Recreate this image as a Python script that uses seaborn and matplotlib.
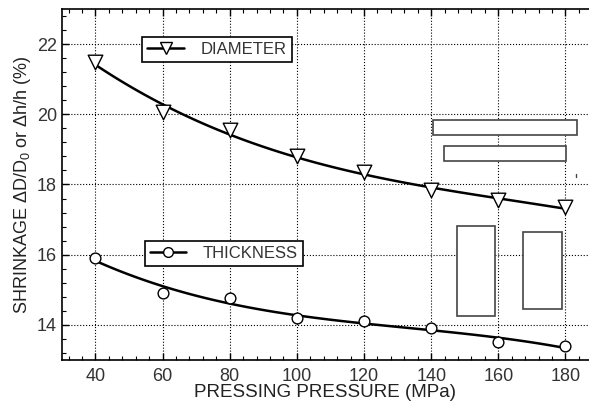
import matplotlib
matplotlib.use("Agg")
import matplotlib.pyplot as plt
from matplotlib.patches import Rectangle
from matplotlib.ticker import MultipleLocator
from matplotlib.lines import Line2D
import seaborn as sns
import numpy as np
import pandas as pd

pressure = [40, 60, 80, 100, 120, 140, 160, 180]
diameter = [21.5, 20.05, 19.55, 18.8, 18.35, 17.85, 17.55, 17.35]
thickness = [15.9, 14.9, 14.78, 14.2, 14.1, 13.9, 13.5, 13.4]

df = pd.DataFrame({'pressure': pressure, 'diameter': diameter, 'thickness': thickness})

sns.set_style('white')
plt.rcParams['font.family'] = ['Liberation Sans', 'DejaVu Sans']
plt.rcParams['mathtext.fontset'] = 'custom'
plt.rcParams['mathtext.rm'] = 'Liberation Sans'

fig = plt.figure(figsize=(5.89, 4.05), dpi=100)
ax = fig.add_axes([0.105, 0.111, 0.895, 0.867])

# smooth fitted curves
for col in ['diameter', 'thickness']:
    sns.regplot(data=df, x='pressure', y=col, order=3, ci=None, scatter=False,
                truncate=True, ax=ax, line_kws=dict(color='black', lw=1.8))

sns.scatterplot(data=df, x='pressure', y='diameter', marker='v', s=110,
                facecolor='white', edgecolor='black', linewidth=1, ax=ax, zorder=5)
sns.scatterplot(data=df, x='pressure', y='thickness', marker='o', s=60,
                facecolor='white', edgecolor='black', linewidth=1, ax=ax, zorder=5)

ax.set_xlim(30, 187)
ax.set_ylim(13, 23)
ax.xaxis.set_minor_locator(MultipleLocator(4))
ax.yaxis.set_major_locator(MultipleLocator(2))
ax.yaxis.set_minor_locator(MultipleLocator(0.4))
ax.set_xticks(range(40, 181, 20))
ax.tick_params(which='both', direction='in', top=True, bottom=True, left=True, right=False,
               colors='black', labelcolor='#333333', labelsize=13)
ax.tick_params(which='major', length=5, width=1)
ax.tick_params(which='minor', length=3, width=0.8)
ax.tick_params(axis='x', which='major', pad=6)
ax.grid(True, which='major', color='black', linestyle=':', linewidth=0.8)
for s in ['left', 'bottom', 'top']:
    ax.spines[s].set_color('black')
    ax.spines[s].set_linewidth(1.2)
ax.spines['right'].set_visible(False)

ax.set_xlabel('PRESSING PRESSURE (MPa)', fontsize=13.5, color='#222222', labelpad=-1)
ax.set_ylabel('SHRINKAGE ΔD/D$_\\mathregular{0}$ or Δh/h (%)', fontsize=13, color='#222222', labelpad=3)

leg_kw = dict(frameon=True, fancybox=False, edgecolor='black', framealpha=1, fontsize=12,
              handlelength=2.2, handletextpad=1.0, borderaxespad=0, borderpad=0.3,
              loc='upper left')
h1 = Line2D([], [], color='black', lw=1.8, marker='v', markersize=9,
            markerfacecolor='white', markeredgecolor='black')
h2 = Line2D([], [], color='black', lw=1.8, marker='o', markersize=7,
            markerfacecolor='white', markeredgecolor='black')
leg1 = ax.legend([h1], ['DIAMETER'], bbox_to_anchor=(0.153, 0.92), **leg_kw)
leg1.get_frame().set_linewidth(1.2)
ax.add_artist(leg1)
leg2 = ax.legend([h2], ['THICKNESS'], bbox_to_anchor=(0.157, 0.339), **leg_kw)
leg2.get_frame().set_linewidth(1.2)
for leg in (leg1, leg2):
    for t in leg.get_texts():
        t.set_color('#333333')

# empty leftover boxes in the original figure
boxes = [(0.705, 0.641, 0.273, 0.043), (0.725, 0.567, 0.231, 0.043),
         (0.750, 0.125, 0.072, 0.256), (0.875, 0.145, 0.074, 0.219)]
for bx, by, bw, bh in boxes:
    ax.add_patch(Rectangle((bx, by), bw, bh, transform=ax.transAxes, fill=True,
                           facecolor='white', edgecolor='#444444', lw=1.2, zorder=3))
ax.plot([0.975, 0.975], [0.52, 0.53], transform=ax.transAxes, color='#444444', lw=1)

fig.savefig('out.png', dpi=100)
